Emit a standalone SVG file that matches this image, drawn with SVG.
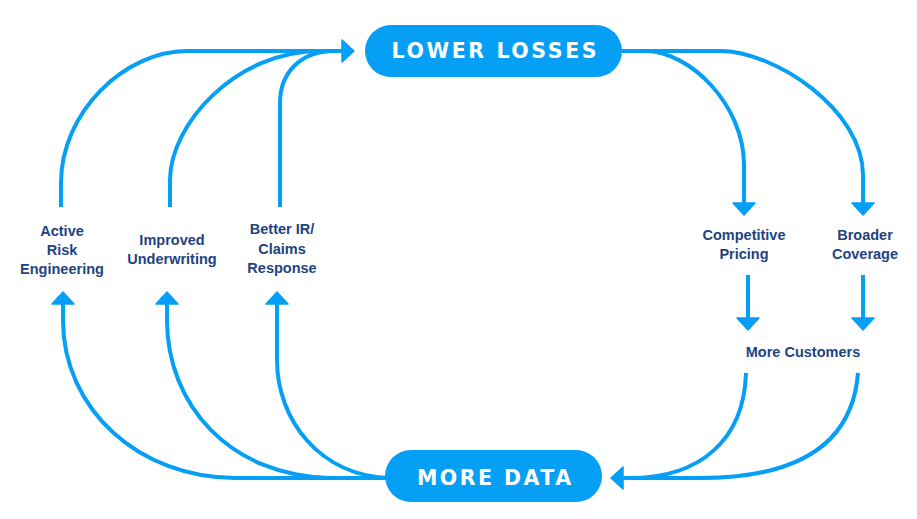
<svg xmlns="http://www.w3.org/2000/svg" width="917" height="519" viewBox="0 0 917 519">
<style>
.c{fill:none;stroke:#069ff6;stroke-width:4}
.pill{fill:#069ff6}
.pt{font-family:"DejaVu Sans","Liberation Sans",Arial,sans-serif;font-weight:bold;font-size:20.5px;fill:#ffffff;text-anchor:middle}
.lb{font-family:"Liberation Sans",Arial,sans-serif;font-weight:bold;font-size:14.5px;fill:#1e4381;text-anchor:middle}
</style>
<defs>
<marker id="ah" markerUnits="userSpaceOnUse" markerWidth="18" markerHeight="28" viewBox="-2 -14 18 28" refX="0" refY="0" orient="auto">
<path d="M0,-11 L12,0 L0,11 Z" fill="#069ff6" stroke="#069ff6" stroke-width="1.5" stroke-linejoin="round"/>
</marker>
</defs>
<g id="connectors">
<path class="c" d="M61,207 V183 C61,112 125,51 187,51 H342" marker-end="url(#ah)"/>
<path class="c" d="M170,207 V180 C170,125 235,51 320,51 H335"/>
<path class="c" d="M280,207 V103 C280,75 298,51 335,51"/>
<path class="c" d="M622,51 H645 C690,51 744,105 744,165 V203" marker-end="url(#ah)"/>
<path class="c" d="M622,51 H720 C775,51 863,110 863,175 V203" marker-end="url(#ah)"/>
<path class="c" d="M748,275 V318" marker-end="url(#ah)"/>
<path class="c" d="M863,275 V318" marker-end="url(#ah)"/>
<path class="c" d="M858,373 C852,450 790,478 700,478 H623" marker-end="url(#ah)"/>
<path class="c" d="M746,373 C744,440 700,478 630,478"/>
<path class="c" d="M390,478 H235 C140,478 63,410 63,320 V304" marker-end="url(#ah)"/>
<path class="c" d="M330,478 C230,476 167,405 167,320 V304" marker-end="url(#ah)"/>
<path class="c" d="M390,478 C320,476 277,420 277,360 V304" marker-end="url(#ah)"/>
</g>
<g id="lower-losses">
<rect class="pill" x="365" y="25" width="257" height="52" rx="26"/>
<text class="pt" x="494" y="58" textLength="205" lengthAdjust="spacing">LOWER LOSSES</text>
</g>
<g id="more-data">
<rect class="pill" x="385" y="450" width="217" height="52" rx="26"/>
<text class="pt" x="494" y="485" textLength="154" lengthAdjust="spacing">MORE DATA</text>
</g>
<g id="active-risk-engineering">
<text class="lb" x="62" y="236">Active</text>
<text class="lb" x="62" y="255">Risk</text>
<text class="lb" x="62" y="274">Engineering</text>
</g>
<g id="improved-underwriting">
<text class="lb" x="172" y="245">Improved</text>
<text class="lb" x="172" y="264">Underwriting</text>
</g>
<g id="better-ir-claims-response">
<text class="lb" x="282" y="234">Better IR/</text>
<text class="lb" x="282" y="254">Claims</text>
<text class="lb" x="282" y="273">Response</text>
</g>
<g id="competitive-pricing">
<text class="lb" x="744" y="240">Competitive</text>
<text class="lb" x="744" y="259">Pricing</text>
</g>
<g id="broader-coverage">
<text class="lb" x="865" y="240">Broader</text>
<text class="lb" x="865" y="259">Coverage</text>
</g>
<g id="more-customers">
<text class="lb" x="803" y="357">More Customers</text>
</g>
</svg>
